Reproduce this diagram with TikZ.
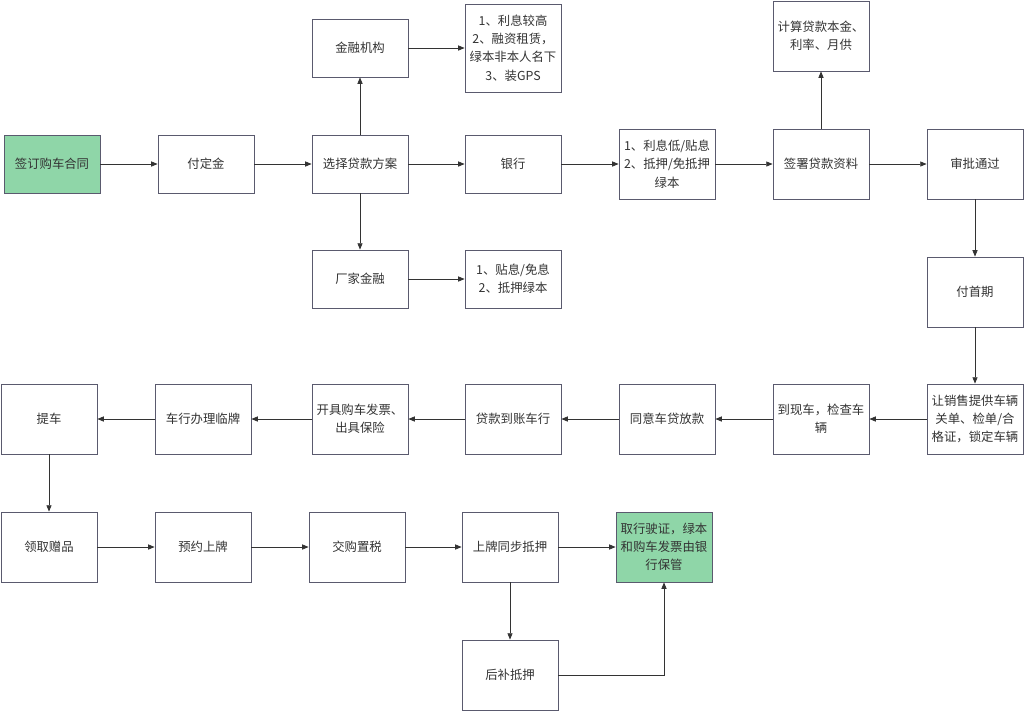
\documentclass[tikz,border=0pt]{standalone}
\usepackage{fontspec}
\setmainfont{Noto Sans CJK SC}
\usetikzlibrary{arrows.meta}
\definecolor{boxline}{HTML}{5A5A6E}
\definecolor{boxgreen}{HTML}{8FD6A8}
\definecolor{linkline}{HTML}{333333}
\tikzset{
    box/.style={draw=boxline, line width=0.6pt, fill=white, minimum width=2.4cm,
        minimum height=1.45cm, align=center, inner sep=1pt, text=black!80,
        font=\fontsize{8.8}{13}\selectfont},
    tallbox/.style={box, minimum height=1.75cm},
    greenbox/.style={fill=boxgreen},
    link/.style={draw=linkline, line width=0.5pt, -{Triangle[length=4.5pt,width=3.6pt]}}
}
\begin{document}
\begin{tikzpicture}[x=0.025cm, y=-0.025cm]
\useasboundingbox (0,0) rectangle (1024,712);
% row 1
\node[box, greenbox] (sign) at (52,164) {签订购车合同};
\node[box] (deposit) at (206,164) {付定金};
\node[box] (choose) at (360,164) {选择贷款方案};
\node[box] (fin) at (360,48) {金融机构};
\node[box] (maker) at (360,279) {厂家金融};
\node[box, minimum height=2.2cm] (finnote) at (513,48) {1、利息较高\\2、融资租赁，\\绿本非本人名下\\3、装GPS};
\node[box] (bank) at (513,164) {银行};
\node[box] (makernote) at (513,279) {1、贴息/免息\\2、抵押绿本};
\node[tallbox] (banknote) at (667,164) {1、利息低/贴息\\2、抵押/免抵押\\绿本};
\node[tallbox] (signdocs) at (821,164) {签署贷款资料};
\node[tallbox] (calc) at (821,36) {计算贷款本金、\\利率、月供};
\node[tallbox] (approve) at (975,164) {审批通过};
\node[tallbox] (firstpay) at (975,292) {付首期};
% row 2
\node[tallbox] (provide) at (975,419) {让销售提供车辆\\关单、检单/合\\格证，锁定车辆};
\node[tallbox] (checkcar) at (821,419) {到现车，检查车\\辆};
\node[tallbox] (agree) at (667,419) {同意车贷放款};
\node[tallbox] (loanin) at (513,419) {贷款到账车行};
\node[tallbox] (invoice) at (360,419) {开具购车发票、\\出具保险};
\node[tallbox] (temp) at (203,419) {车行办理临牌};
\node[tallbox] (pickup) at (49,419) {提车};
% row 3
\node[tallbox] (gift) at (49,547) {领取赠品};
\node[tallbox] (appoint) at (203,547) {预约上牌};
\node[tallbox] (tax) at (357,547) {交购置税};
\node[tallbox] (plate) at (510,547) {上牌同步抵押};
\node[tallbox, greenbox] (license) at (664,547) {取行驶证，绿本\\和购车发票由银\\行保管};
\node[tallbox] (later) at (510,675) {后补抵押};
% connectors
\draw[link] (sign) -- (deposit);
\draw[link] (deposit) -- (choose);
\draw[link] (choose) -- (fin);
\draw[link] (choose) -- (maker);
\draw[link] (fin) -- (fin -| finnote.west);
\draw[link] (choose) -- (bank);
\draw[link] (maker) -- (makernote);
\draw[link] (bank) -- (banknote);
\draw[link] (banknote) -- (signdocs);
\draw[link] (signdocs) -- (calc);
\draw[link] (signdocs) -- (approve);
\draw[link] (approve) -- (firstpay);
\draw[link] (firstpay) -- (provide);
\draw[link] (provide) -- (checkcar);
\draw[link] (checkcar) -- (agree);
\draw[link] (agree) -- (loanin);
\draw[link] (loanin) -- (invoice);
\draw[link] (invoice) -- (temp);
\draw[link] (temp) -- (pickup);
\draw[link] (pickup) -- (gift);
\draw[link] (gift) -- (appoint);
\draw[link] (appoint) -- (tax);
\draw[link] (tax) -- (plate);
\draw[link] (plate) -- (license);
\draw[link] (plate) -- (later);
\draw[link] (later) -| (license);
\end{tikzpicture}
\end{document}
